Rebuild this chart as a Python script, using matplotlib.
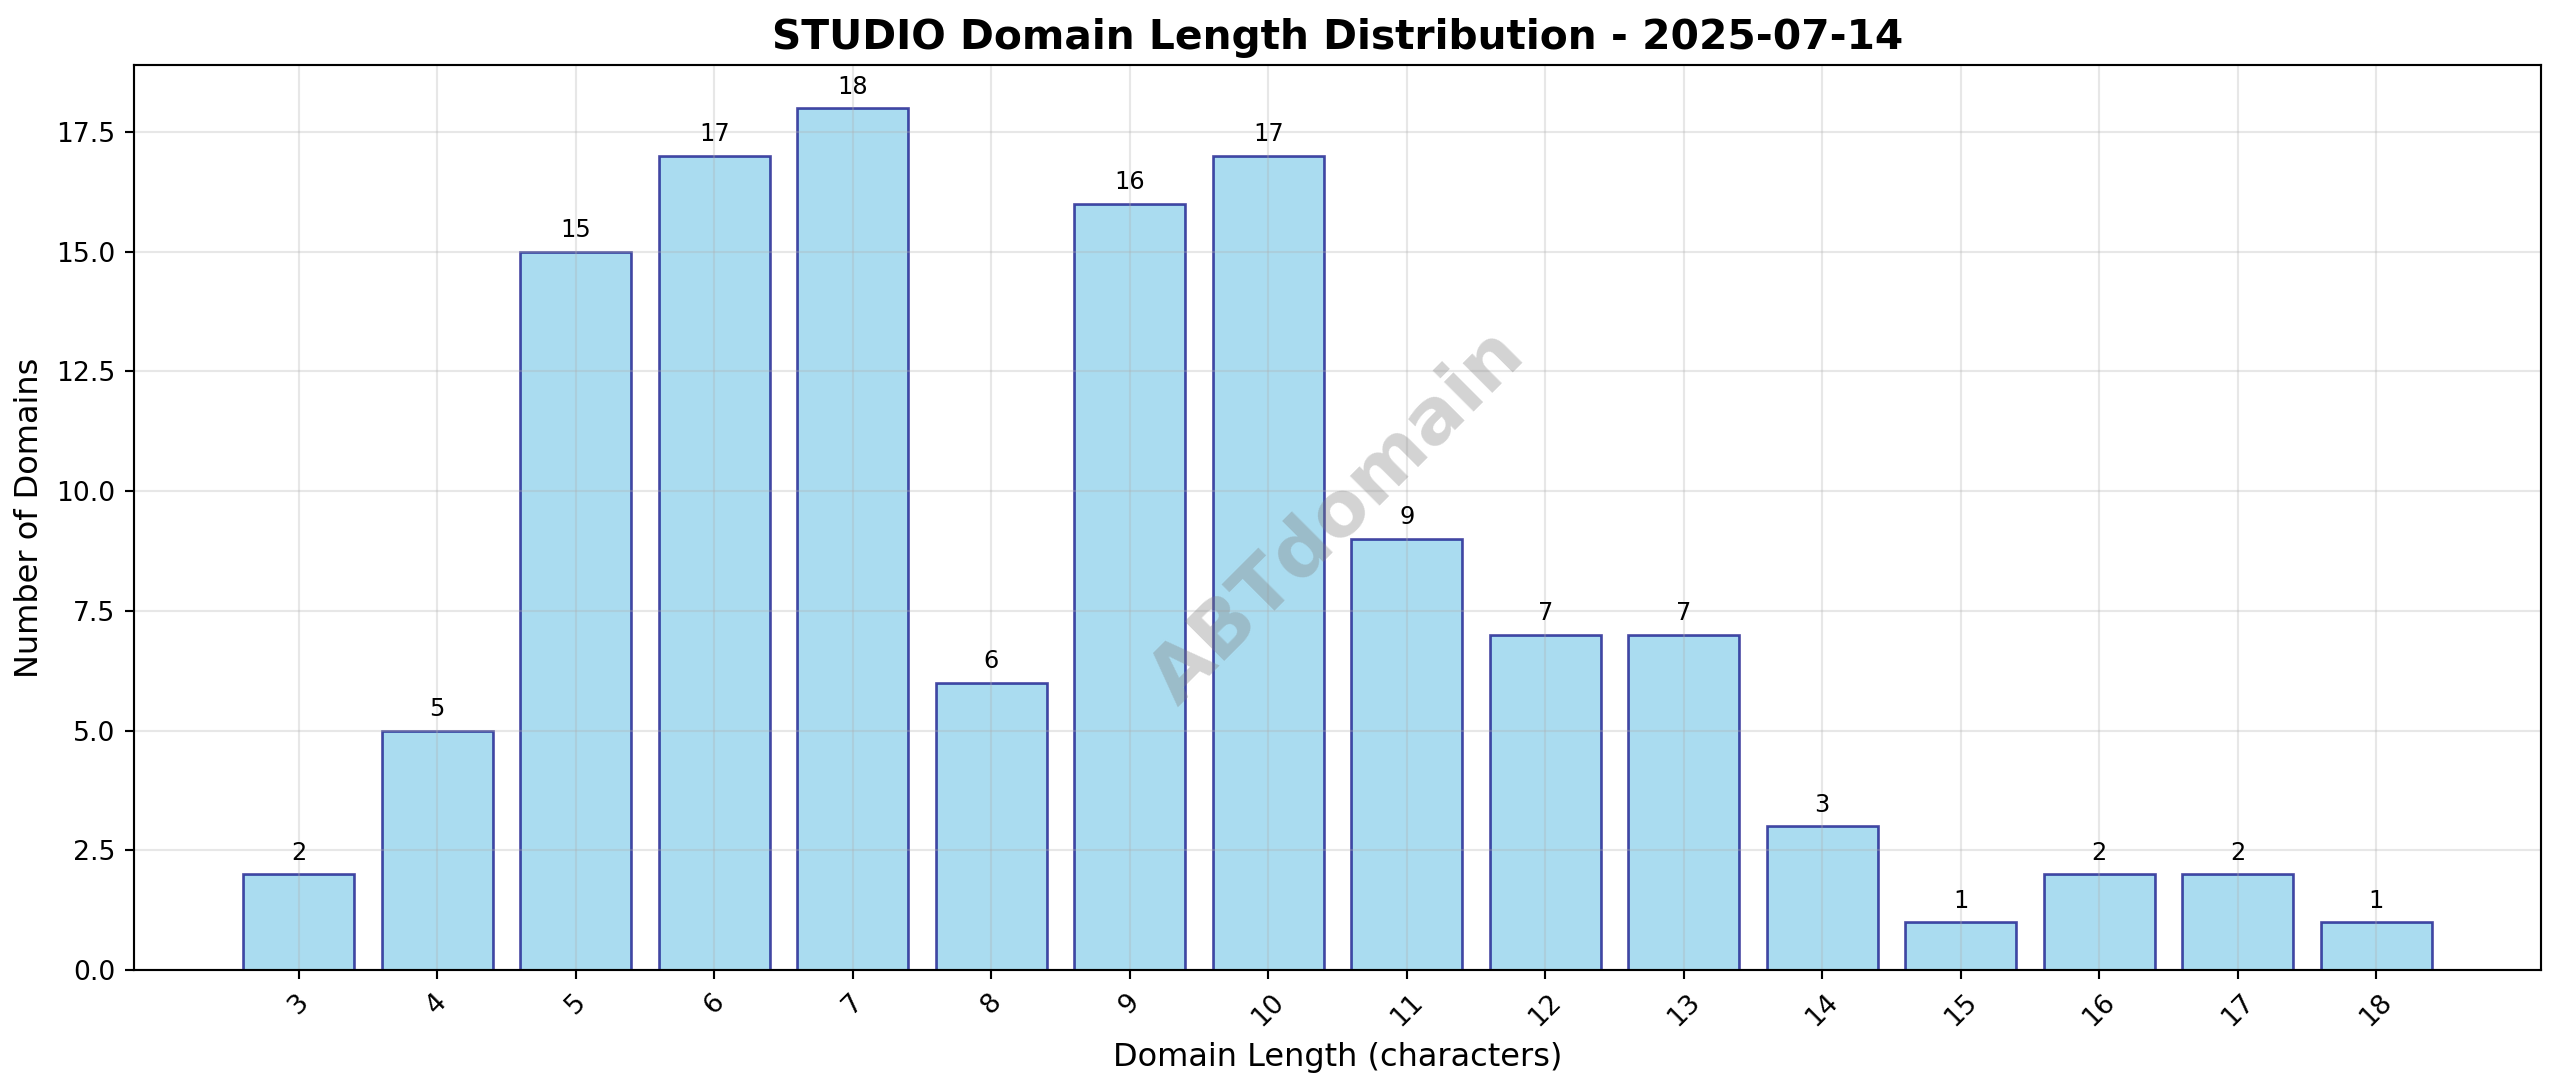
import numpy as np
import matplotlib
matplotlib.use('Agg')
import matplotlib.pyplot as plt

# Domain length -> count
lengths = [3, 4, 5, 6, 7, 8, 9, 10, 11, 12, 13, 14, 15, 16, 17, 18]
counts = [2, 5, 15, 17, 18, 6, 16, 17, 9, 7, 7, 3, 1, 2, 2, 1]

TITLE = 'STUDIO Domain Length Distribution - 2025-07-14'
WATERMARK = 'ABTdomain'
DPI = 192


def main():
    fig = plt.figure(figsize=(2560 / DPI, 1087 / DPI), dpi=DPI)
    ax = fig.add_axes([0.0523, 0.1076, 0.9403, 0.8326])

    bars = ax.bar(lengths, counts, width=0.8, color='skyblue',
                  edgecolor='navy', alpha=0.7, linewidth=1)

    # value labels on top of bars
    for bar, c in zip(bars, counts):
        ax.text(bar.get_x() + bar.get_width() / 2, c + 0.2, str(c),
                ha='center', va='bottom', fontsize=9)

    ax.set_title(TITLE, fontsize=15.3, fontweight='bold')
    ax.set_xlabel('Domain Length (characters)', fontsize=12)
    ax.set_ylabel('Number of Domains', fontsize=12)
    ax.set_xticks(lengths)
    ax.set_xticklabels([str(x) for x in lengths], rotation=45)
    ax.grid(True, alpha=0.3)

    ax.text(0.5, 0.5, WATERMARK, transform=ax.transAxes, fontsize=29,
            fontweight='bold', color='gray', alpha=0.35, rotation=45,
            ha='center', va='center')

    fig.savefig('out.png', dpi=DPI)


if __name__ == "__main__":
    main()
